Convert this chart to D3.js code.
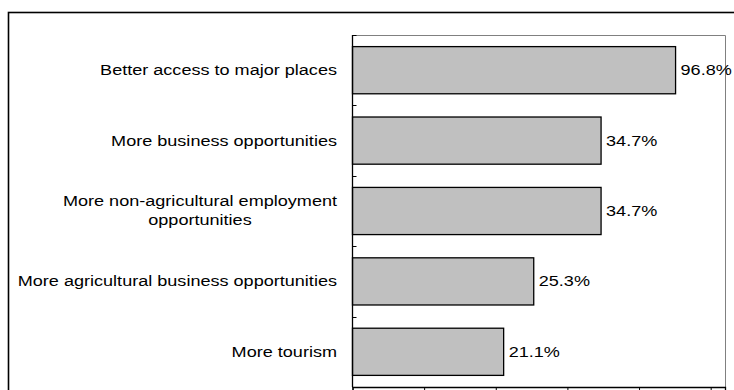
<!DOCTYPE html>
<html>
<head>
<meta charset="utf-8">
<script src="https://cdn.jsdelivr.net/npm/d3@7"></script>
<style>
  body { margin: 0; background: #fff; }
  svg { display: block; }
  text { font-family: 'Liberation Sans', Arial, sans-serif; font-size: 14px; fill: #000; }
</style>
</head>
<body>
<div id="chart"></div>
<script>
// categories, top to bottom (multi-line labels split with \n)
const categories = [
  'Better access to major places',
  'More business opportunities',
  'More non-agricultural employment\nopportunities',
  'More agricultural business opportunities',
  'More tourism'
]
// bar lengths as drawn in the picture (percent)
const barValues = [45.1, 34.7, 34.7, 25.3, 21.1]
// value labels printed next to the bars
const valueLabels = ['96.8%', '34.7%', '34.7%', '25.3%', '21.1%']
const xTicks = [0, 10, 20, 30, 40, 50]

const W = 734, H = 390
const plot = { left: 352.5, top: 35, right: 725, bottom: 387 }
const stretchX = 1.29 // text in the original is drawn wide

// widen a text element horizontally
function stretch(t) {
  const len = t.node().getComputedTextLength()
  t.attr('textLength', len * stretchX).attr('lengthAdjust', 'spacingAndGlyphs')
  return len * stretchX
}

const svg = d3.select('#chart')
  .append('svg')
  .attr('width', W)
  .attr('height', H)

// outer frame (runs off the right and bottom edge)
svg.append('rect')
  .attr('x', 8.5)
  .attr('y', 12.5)
  .attr('width', 760)
  .attr('height', 420)
  .attr('fill', 'none')
  .attr('stroke', '#000')
  .attr('stroke-width', 1.6)

const x = d3.scaleLinear()
  .domain([0, 52])
  .range([plot.left, plot.right])

const y = d3.scaleBand()
  .domain(categories)
  .range([plot.top, plot.bottom])
  .paddingInner(0.33)
  .paddingOuter(0.165)

// plot area border (top + right, gray)
svg.append('path')
  .attr('d', `M${plot.left},${plot.top + 0.5}H${plot.right + 0.5}V${plot.bottom}`)
  .attr('fill', 'none')
  .attr('stroke', '#808080')
  .attr('stroke-width', 1)

// bars
svg.selectAll('rect.bar')
  .data(barValues)
  .join('rect')
  .attr('class', 'bar')
  .attr('x', x(0))
  .attr('y', (d, i) => y(categories[i]))
  .attr('width', d => x(d) - x(0))
  .attr('height', y.bandwidth())
  .attr('fill', '#c0c0c0')
  .attr('stroke', '#000')
  .attr('stroke-width', 1.3)

// value labels
svg.selectAll('text.val')
  .data(barValues)
  .join('text')
  .attr('class', 'val')
  .attr('x', d => x(d) + 5)
  .attr('y', (d, i) => y(categories[i]) + y.bandwidth() / 2)
  .attr('dy', '0.35em')
  .text((d, i) => valueLabels[i])
  .each(function () { stretch(d3.select(this)) })

// y axis with inward ticks at band boundaries
svg.append('line')
  .attr('x1', plot.left).attr('x2', plot.left)
  .attr('y1', plot.top).attr('y2', plot.bottom)
  .attr('stroke', '#000').attr('stroke-width', 1.3)
d3.range(categories.length + 1).forEach(i => {
  const yy = Math.round(plot.top + i * (plot.bottom - plot.top) / categories.length) + 0.5
  svg.append('line')
    .attr('x1', plot.left).attr('x2', plot.left + 4)
    .attr('y1', yy).attr('y2', yy)
    .attr('stroke', '#000').attr('stroke-width', 1)
})

// category labels, right aligned at 337, lines centered on each other
categories.forEach(c => {
  const lines = c.split('\n')
  const cy = y(c) + y.bandwidth() / 2
  const texts = lines.map((l, k) => svg.append('text')
    .attr('y', cy + (k - (lines.length - 1) / 2) * 19)
    .attr('dy', '0.35em')
    .attr('text-anchor', 'middle')
    .text(l))
  const widths = texts.map(stretch)
  const maxW = d3.max(widths)
  texts.forEach(tx => tx.attr('x', 337 - maxW / 2))
})

// x axis at the bottom, ticks pointing down, no labels
const xAxis = svg.append('g')
  .attr('transform', `translate(0,${plot.bottom})`)
  .call(d3.axisBottom(x).tickValues(xTicks).tickSize(5).tickFormat(''))
xAxis.select('.domain').attr('stroke-width', 1.3)
</script>
</body>
</html>
